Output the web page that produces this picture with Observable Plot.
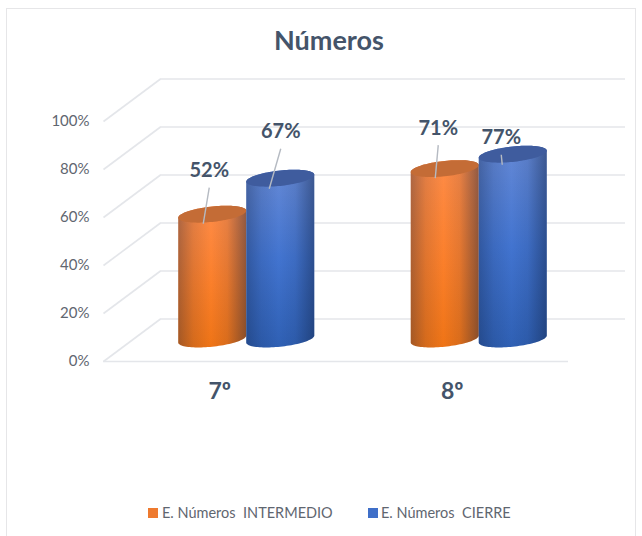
<!DOCTYPE html>
<html><head><meta charset="utf-8">
<script src="https://cdn.jsdelivr.net/npm/d3@7"></script>
<script src="https://cdn.jsdelivr.net/npm/@observablehq/plot@0.6"></script>
<style>
html,body{margin:0;padding:0;background:#fff;width:642px;height:536px;overflow:hidden;font-family:Lato,sans-serif}
#frame{position:absolute;left:6px;top:8px;width:630px;height:540px;border:1px solid #e6e6e8;box-sizing:border-box;pointer-events:none}
#title{height:70px;box-sizing:border-box;padding-top:23px;text-align:center;font-size:27px;line-height:34px;font-weight:700;color:#44546a;padding-left:16px}
#chart svg{display:block}
#legend{position:absolute;top:503px;left:0;width:642px;font-size:14.5px;line-height:20px;color:#5f6670;white-space:pre}
#legend span{position:absolute;top:0}
#legend i{position:absolute;top:5px;width:10px;height:10px}
</style></head><body>
<div id="frame"></div>
<div id="title">Números</div>
<div id="chart"></div>
<div id="legend"></div>
<script>
const categories = ["7º", "8º"];
const seriesNames = ["E. Números  INTERMEDIO", "E. Números  CIERRE"];
const intermedio = [52, 71];
const cierre = [67, 77];
const yTicks = [0, 20, 40, 60, 80, 100];

// pixels per unit of the two scales
const pxX = 465 / 2, pxY = 240 / 100;
const wallDX = 57 / pxX, wallDY = 42.5 / pxY;         // depth of the back wall
const barDX = 27 / pxX, barDY = 22 / pxY;             // depth of the cylinders' axis
const radius = 34 / pxX, step = 68 / pxX;
const tilt = 3.5 / pxY, minor = 7.7 / pxY;

const bars = [];
categories.forEach((c, i) => {
  const mid = i + 0.5 + barDX;
  bars.push({c, s: 0, v: intermedio[i], cx: mid - step / 2});
  bars.push({c, s: 1, v: cierre[i], cx: mid + step / 2});
});
const leader = [[-3.5, 44, 27], [0, 47, 33], [-7, 41, 24], [-12, 17, 8]]; // label dx, label rise, gap under label
const leaderEnd = [[-9.5, -9], [-11.5, -10], [-10, -9], [-11, -10]];

const ts = d3.range(0, 49).map(k => Math.PI * k / 48);
function cyl(b) {
  const top = b.v + barDY;
  return ts.map(t => ({
    x: b.cx + radius * Math.cos(t),
    topUp: top + tilt * Math.cos(t) + minor * Math.sin(t),
    topDn: top + tilt * Math.cos(t) - minor * Math.sin(t),
    baseDn: barDY + tilt * Math.cos(t) - minor * Math.sin(t)
  }));
}
const bodyFill = ["url(#bodyO)", "url(#bodyB)"], capFill = ["#c46c36", "#3f5c9e"];

const defs = () => {
  const g = document.createElementNS("http://www.w3.org/2000/svg", "defs");
  g.innerHTML = `
  <linearGradient id="bodyO" x1="0" y1="0" x2="0" y2="1">
    <stop offset="0" stop-color="#ff8c48"/><stop offset="0.55" stop-color="#fb7f2a"/><stop offset="1" stop-color="#ef7416"/>
  </linearGradient>
  <linearGradient id="bodyB" x1="0" y1="0" x2="0" y2="1">
    <stop offset="0" stop-color="#6589d6"/><stop offset="0.5" stop-color="#4274d0"/><stop offset="1" stop-color="#2f60b4"/>
  </linearGradient>
  <linearGradient id="shade" x1="0" y1="0" x2="1" y2="0">
    <stop offset="0" stop-color="#102040" stop-opacity="0.34"/>
    <stop offset="0.22" stop-color="#102040" stop-opacity="0.12"/>
    <stop offset="0.48" stop-color="#102040" stop-opacity="0"/>
    <stop offset="0.72" stop-color="#102040" stop-opacity="0.10"/>
    <stop offset="1" stop-color="#102040" stop-opacity="0.46"/>
  </linearGradient>`;
  return g;
};

const grid = "#e4e6ea";
const marks = [
  defs,
  Plot.axisY({ticks: yTicks, tickFormat: d => d + "%", tickSize: 0, tickPadding: 14, fontSize: 15, color: "#5f6670", label: null}),
  Plot.axisX({ticks: categories.map((c, i) => i + 0.5), tickFormat: d => categories[d - 0.5], tickSize: 0, tickPadding: 21, fontSize: 23, fontWeight: 700, color: "#44546a", label: null}),
  // walls
  Plot.link(yTicks, {x1: 0, y1: d => d, x2: wallDX, y2: d => d + wallDY, stroke: grid, strokeWidth: 1.6}),
  Plot.ruleY(yTicks, {x1: wallDX, x2: 2 + wallDX, y: d => d + wallDY, stroke: grid, strokeWidth: 1.6}),
  Plot.ruleY([0], {x1: 0, x2: 2, stroke: grid, strokeWidth: 1.6})
];
bars.forEach(b => {
  const pts = cyl(b);
  const area = fill => Plot.area(pts, {x1: "x", y1: "baseDn", y2: "topUp", fill, curve: "linear"});
  marks.push(area(bodyFill[b.s]), area("url(#shade)"),
    Plot.area(pts, {x1: "x", y1: "topDn", y2: "topUp", fill: capFill[b.s], curve: "linear"}));
});
bars.forEach((b, i) => {
  const [ldx, rise, gap] = leader[i], [ex, ey] = leaderEnd[i];
  const topY = b.v + barDY;
  marks.push(
    Plot.link([b], {x1: d => d.cx + (ldx) / pxX, y1: () => topY + (rise - 17) / pxY,
                    x2: d => d.cx + ex / pxX, y2: () => topY + ey / pxY, stroke: "#b5bac2", strokeWidth: 1.4}),
    Plot.text([b], {x: d => d.cx + ldx / pxX, y: () => topY + rise / pxY, text: d => d.v + "%", fontSize: 20, fontWeight: 700, fill: "#44546a"})
  );
});

const plot = Plot.plot({
  width: 642, height: 420,
  marginLeft: 103, marginRight: 74, marginTop: 51, marginBottom: 129,
  x: {domain: [0, 2], axis: null},
  y: {domain: [0, 100], axis: null},
  style: {fontFamily: "Lato, sans-serif", background: "transparent", overflow: "visible"},
  marks
});
document.getElementById("chart").append(plot);

const legend = document.getElementById("legend");
[[148, 162, "#ee7a2f"], [368, 381, "#3f6fc8"]].forEach(([sx, tx, col], i) => {
  legend.insertAdjacentHTML("beforeend", `<i style="left:${sx}px;background:${col}"></i><span style="left:${tx}px">${seriesNames[i]}</span>`);
});
</script>
</body></html>
